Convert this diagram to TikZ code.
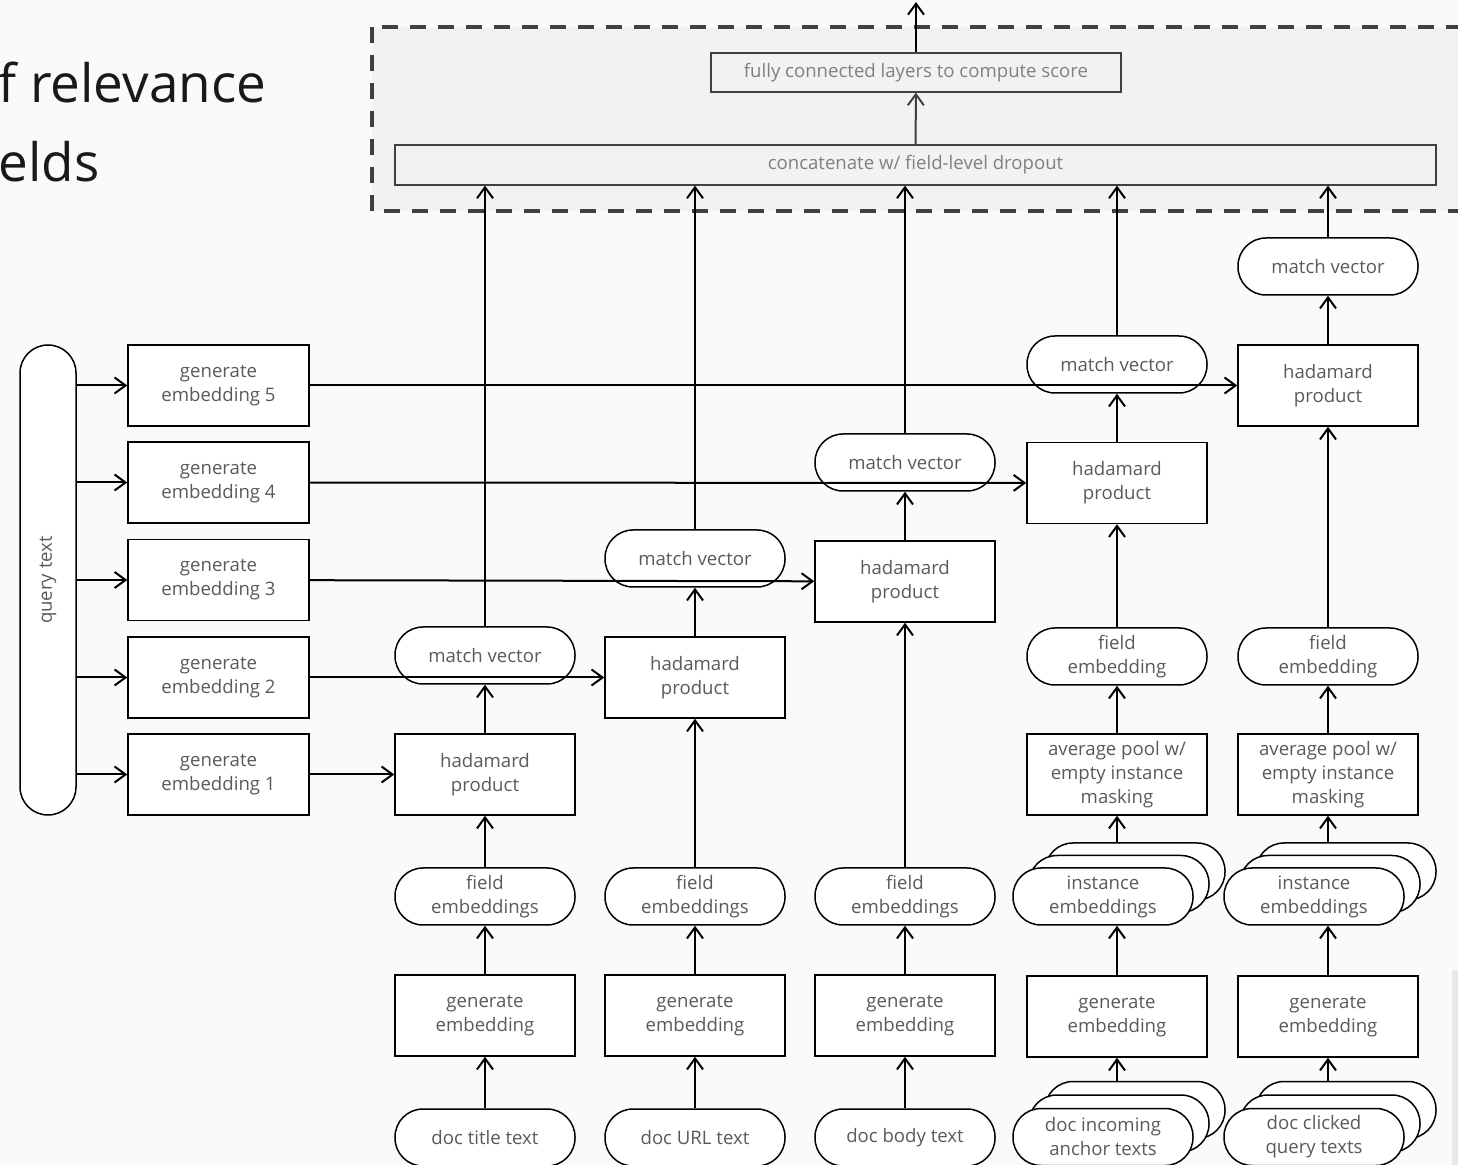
\documentclass[tikz,border=0pt]{standalone}
\usepackage{fontspec}
\setmainfont{Open Sans}
\usetikzlibrary{arrows.meta}
\definecolor{bg}{HTML}{FAFAFA}
\definecolor{panel}{HTML}{F2F2F2}
\definecolor{dashc}{HTML}{404040}
\definecolor{txt}{HTML}{5A5A5A}
\definecolor{ltxt}{HTML}{808080}
\tikzset{
 base/.style={draw=black, line width=0.75pt, fill=white, text=txt, align=center, inner sep=0pt, font=\fontsize{9.3}{12}\selectfont},
 stepbox/.style={base, rectangle, minimum width=90pt, minimum height=40.5pt},
 pill/.style={base, rectangle, rounded corners=14pt, minimum width=90pt, minimum height=28.5pt},
 conn/.style={line width=1pt, draw=black, -{Straight Barb[length=5.5pt,width=8pt,line width=1pt]}},
 topbox/.style={draw=dashc, line width=0.6pt, fill=panel, text=ltxt, inner sep=0pt, font=\fontsize{9.3}{12}\selectfont},
 title/.style={anchor=base west, inner sep=0pt, text=black!90, font=\fontsize{26.5}{39.5}\selectfont}
}
\begin{document}
\begin{tikzpicture}[x=0.5pt,y=-0.5pt]
\useasboundingbox (0,0) rectangle (1458,1165);
\clip (0,0) rectangle (1458,1165);
\fill[bg] (0,0) rectangle (1458,1165);
\fill[gray!18] (1452,970) rectangle (1458,1165);

% title fragments
\node[title] (t1a) at (-2,103) {f relevance};
\node[title] (t1b) at (-2,182) {elds};

% panel
\fill[panel] (372,27) rectangle (1475,211);
\draw[dashc, line width=2pt, dash pattern=on 8pt off 6pt] (372,27) rectangle (1475,211);
\node[topbox, minimum width=205pt, minimum height=19.5pt] (fc) at (916,72.5) {fully connected layers to compute score};
\node[topbox, minimum width=520.5pt, minimum height=20pt] (cc) at (915.5,165) {concatenate w/ field-level dropout};
\coordinate (out) at (916,2);

% query
\node[base, rectangle, rounded corners=14pt, minimum width=28pt, minimum height=235pt] (q) at (48,580) {\rotatebox{90}{query text}};
\node[stepbox, minimum width=90.5pt] (g5) at (218.5,385.5) {generate\\embedding 5};
\node[stepbox, minimum width=90.5pt] (g4) at (218.5,482.5) {generate\\embedding 4};
\node[stepbox, minimum width=90.5pt] (g3) at (218.5,580) {generate\\embedding 3};
\node[stepbox, minimum width=90.5pt] (g2) at (218.5,677.5) {generate\\embedding 2};
\node[stepbox, minimum width=90.5pt] (g1) at (218.5,774.5) {generate\\embedding 1};

% column 1
\node[pill] (t1) at (485,1137.5) {doc title text};
\node[stepbox] (e1) at (485,1015.5) {generate\\embedding};
\node[pill] (f1) at (485,896.5) {field\\embeddings};
\node[stepbox] (h1) at (485,774.5) {hadamard\\product};
\node[pill] (m1) at (485,655.5) {match vector};

% column 2
\node[pill] (t2) at (695,1137.5) {doc URL text};
\node[stepbox] (e2) at (695,1015.5) {generate\\embedding};
\node[pill] (f2) at (695,896.5) {field\\embeddings};
\node[stepbox] (h2) at (695,677.5) {hadamard\\product};
\node[pill] (m2) at (695,558.5) {match vector};

% column 3
\node[pill] (t3) at (905,1137.5) {doc body text};
\node[stepbox] (e3) at (905,1015.5) {generate\\embedding};
\node[pill] (f3) at (905,896.5) {field\\embeddings};
\node[stepbox] (h3) at (905,581.5) {hadamard\\product};
\node[pill] (m3) at (905,462.5) {match vector};

% column 4
\node[pill] (a4c) at (1135,1110) {};
\node[pill] (a4b) at (1119,1123.5) {};
\node[pill] (a4) at (1103,1137) {doc incoming\\anchor texts};
\node[stepbox] (e4) at (1117,1016.5) {generate\\embedding};
\node[pill] (i4c) at (1135,871.5) {};
\node[pill] (i4b) at (1119,884) {};
\node[pill] (i4) at (1103,896.5) {instance\\embeddings};
\node[stepbox] (p4) at (1117,774.5) {average pool w/\\empty instance\\masking};
\node[pill] (f4) at (1117,656.5) {field\\embedding};
\node[stepbox] (h4) at (1117,483) {hadamard\\product};
\node[pill] (m4) at (1117,364.5) {match vector};

% column 5
\node[pill] (a5c) at (1346,1110) {};
\node[pill] (a5b) at (1330,1123.5) {};
\node[pill] (a5) at (1314,1137) {doc clicked\\query texts};
\node[stepbox] (e5) at (1328,1016.5) {generate\\embedding};
\node[pill] (i5c) at (1346,871.5) {};
\node[pill] (i5b) at (1330,884) {};
\node[pill] (i5) at (1314,896.5) {instance\\embeddings};
\node[stepbox] (p5) at (1328,774.5) {average pool w/\\empty instance\\masking};
\node[pill] (f5) at (1328,656.5) {field\\embedding};
\node[stepbox] (h5) at (1328,385.5) {hadamard\\product};
\node[pill] (m5) at (1328,266.5) {match vector};

% connectors: query
\foreach \g in {g1,g2,g3,g4,g5} {
  \draw[conn] (q.east |- \g) -- (\g);
}
\draw[conn] (g1) -- (h1);
\draw[conn] (g2) -- (h2);
\draw[conn] (g3) -- (h3);
\draw[conn] (g4) -- (h4);
\draw[conn] (g5) -- (h5);

% columns 1-3
\foreach \i in {1,2,3} {
  \draw[conn] (t\i) -- (e\i);
  \draw[conn] (e\i) -- (f\i);
  \draw[conn] (f\i) -- (h\i);
  \draw[conn] (h\i) -- (m\i);
  \draw[conn] (m\i) -- (m\i |- cc.south);
}
% columns 4-5
\foreach \i in {4,5} {
  \draw[conn] (a\i c.north -| e\i) -- (e\i);
  \draw[conn] (e\i) -- (e\i |- i\i.south);
  \draw[conn] (i\i c.north -| p\i) -- (p\i);
  \draw[conn] (p\i) -- (f\i);
  \draw[conn] (f\i) -- (h\i);
  \draw[conn] (h\i) -- (m\i);
  \draw[conn] (m\i) -- (m\i |- cc.south);
}
\draw[conn, draw=dashc] (cc) -- (fc);
\draw[conn] (fc) -- (out);
\end{tikzpicture}
\end{document}
